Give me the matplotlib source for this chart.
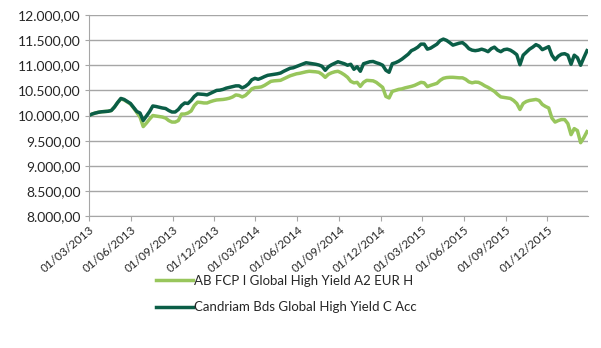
import matplotlib
matplotlib.use("Agg")
import matplotlib.pyplot as plt
import matplotlib.dates as mdates
from matplotlib.ticker import FuncFormatter
import numpy as np
import pandas as pd

# weekly NAV, base 10.000 on 01/03/2013
dates = pd.date_range("2013-03-01", periods=157, freq="7D")

ab_fcp = [
    10000, 10030, 10050, 10065, 10075, 10080, 10085, 10100, 10170, 10260,
    10330, 10310, 10270, 10230, 10150, 10060, 9970, 9780, 9850, 9930,
    10000, 9990, 9980, 9970, 9950, 9900, 9870, 9870, 9900, 10030,
    10030, 10050, 10090, 10200, 10265, 10260, 10250, 10250, 10275, 10295,
    10310, 10315, 10320, 10330, 10345, 10370, 10410, 10400, 10370, 10400,
    10460, 10530, 10555, 10560, 10570, 10600, 10640, 10680, 10690, 10695,
    10700, 10730, 10760, 10790, 10810, 10830, 10840, 10855, 10870, 10880,
    10875, 10870, 10860, 10820, 10760, 10820, 10850, 10870, 10880, 10850,
    10810, 10760, 10680, 10650, 10660, 10580, 10660, 10700, 10695, 10690,
    10660, 10610, 10560, 10380, 10350, 10480, 10500, 10520, 10530, 10550,
    10565, 10580, 10600, 10630, 10660, 10650, 10575, 10600, 10620, 10640,
    10700, 10740, 10755, 10760, 10760, 10755, 10750, 10750, 10720, 10670,
    10650, 10665, 10660, 10630, 10590, 10560, 10520, 10480, 10420, 10370,
    10360, 10350, 10340, 10300, 10240, 10120, 10240, 10280, 10300, 10310,
    10320, 10300, 10220, 10180, 10150, 9950, 9870, 9900, 9920, 9920,
    9840, 9620, 9740, 9700, 9460, 9560, 9680,
]

candriam = [
    10000, 10030, 10050, 10065, 10075, 10080, 10085, 10100, 10170, 10260,
    10340, 10320, 10280, 10240, 10160, 10080, 10050, 9900, 9990, 10080,
    10190, 10180, 10165, 10150, 10140, 10100, 10070, 10070, 10120, 10200,
    10250, 10240, 10300, 10380, 10430, 10425, 10420, 10410, 10440, 10470,
    10500, 10505, 10520, 10545, 10560, 10575, 10590, 10590, 10550, 10580,
    10630, 10710, 10740, 10720, 10745, 10775, 10800, 10810, 10820, 10830,
    10845, 10880, 10910, 10940, 10950, 10975, 11000, 11025, 11050, 11040,
    11030, 11020, 11005, 10980, 10900, 10970, 11010, 11040, 11070, 11050,
    11030, 11000, 11020, 10920, 10970, 10880, 11030, 11050, 11070, 11075,
    11050, 11030, 11000, 10900, 10860, 11030, 11050, 11080, 11120, 11170,
    11220, 11290, 11320, 11360, 11420, 11420, 11320, 11340, 11380, 11420,
    11490, 11520, 11495, 11450, 11400, 11420, 11440, 11450, 11400, 11330,
    11300, 11290, 11300, 11320, 11300, 11270, 11330, 11360, 11300, 11270,
    11310, 11320, 11300, 11260, 11210, 11010, 11200, 11260, 11320, 11360,
    11410, 11380, 11310, 11340, 11370, 11200, 11110, 11180, 11220, 11230,
    11200, 11020, 11200, 11150, 11000, 11150, 11290,
]

labels = ["AB FCP I Global High Yield A2 EUR H", "Candriam Bds Global High Yield C Acc"]
colors = ["#98C65C", "#0B5E47"]

plt.rcParams["font.family"] = ["Lato", "DejaVu Sans"]

fig = plt.figure(figsize=(6.01, 3.48), dpi=100)
ax = fig.add_axes([0.148, 0.379, 0.831, 0.578])

ax.plot(dates, ab_fcp, color=colors[0], lw=2.5, label=labels[0])
ax.plot(dates, candriam, color=colors[1], lw=2.5, label=labels[1])

ax.set_ylim(8000, 12000)
ax.set_yticks(np.arange(8000, 12001, 500))
ax.yaxis.set_major_formatter(FuncFormatter(
    lambda v, p: f"{v:,.2f}".replace(",", "X").replace(".", ",").replace("X", ".")))
ax.grid(axis="y", color="#A6A6A6", lw=1)
ax.set_axisbelow(True)

ax.set_xlim(pd.Timestamp("2013-03-01"), pd.Timestamp("2016-02-29"))
ax.xaxis.set_major_locator(mdates.MonthLocator(bymonth=[3, 6, 9, 12], bymonthday=1))
ax.xaxis.set_major_formatter(mdates.DateFormatter("%d/%m/%Y"))

for s in ["top", "right"]:
    ax.spines[s].set_visible(False)
for s in ["left", "bottom"]:
    ax.spines[s].set_color("#A6A6A6")
ax.tick_params(axis="both", colors="#A6A6A6", labelcolor="#262626")
ax.tick_params(axis="x", length=3.5, pad=2.5, labelsize=8.5)
ax.tick_params(axis="y", length=3, pad=3, labelsize=10)
for lab in ax.get_xticklabels():
    lab.set_rotation(40)
    lab.set_ha("right")
    lab.set_va("top")
    lab.set_rotation_mode("anchor")

fig.legend(loc="upper left", bbox_to_anchor=(0.24, 0.245), frameon=False,
           fontsize=9.5, handlelength=2.8, handletextpad=0.05, labelspacing=1.1,
           labelcolor="#262626")

fig.savefig("out.png", dpi=100)
